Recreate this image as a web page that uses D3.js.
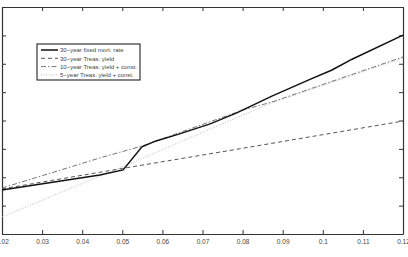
<!DOCTYPE html>
<html>
<head>
<meta charset="utf-8">
<script src="https://cdn.jsdelivr.net/npm/d3@7"></script>
<style>
  body { margin: 0; background: #fff; }
  svg { display: block; }
  text { font-family: "Liberation Sans", Arial, sans-serif; }
</style>
</head>
<body>
<div id="chart"></div>
<script>
// data
var mortX = [0.02, 0.0444, 0.0502, 0.0549, 0.0584, 0.0641, 0.0719, 0.0784, 0.0873, 0.0968, 0.1023, 0.1073, 0.12],
    mortY = [0.0555, 0.0608, 0.0626, 0.0707, 0.0728, 0.0752, 0.0788, 0.0826, 0.0886, 0.0945, 0.0978, 0.1016, 0.1101];
var t30X = [0.02, 0.05, 0.08, 0.12],
    t30Y = [0.0559, 0.0631, 0.0702, 0.0798];
var t10X = [0.02, 0.0444, 0.0549, 0.0801, 0.0873, 0.12],
    t10Y = [0.0562, 0.0668, 0.0710, 0.0837, 0.0865, 0.1024];
var t5X = [0.02, 0.0534, 0.0719, 0.0873, 0.12],
    t5Y = [0.0460, 0.0657, 0.0770, 0.0862, 0.1020];
var xTicks = [0.02, 0.03, 0.04, 0.05, 0.06, 0.07, 0.08, 0.09, 0.1, 0.11, 0.12],
    yTicks = [0.04, 0.05, 0.06, 0.07, 0.08, 0.09, 0.1, 0.11, 0.12];
var legendLabels = ["30\u2212year fixed mort. rate", "30\u2212year Treas. yield",
  "10\u2212year Treas. yield + const.", "5\u2212year Treas. yield + const."];

var W = 408, H = 257,
    m = {t:7, r:5, b:23, l:2},
    w = W - m.l - m.r,
    h = H - m.t - m.b;

var svg = d3.select("#chart").append("svg")
  .attr("width", W).attr("height", H);

var g = svg.append("g")
  .attr("transform", "translate(" + m.l + "," + m.t + ")");

var x = d3.scaleLinear().domain([0.02, 0.12]).range([0, w]);
var y = d3.scaleLinear().domain([0.04, 0.12]).range([h, 0]);

// axes, matlab style: ticks inside on all four sides
var fmt = function(d){ return String(+d.toFixed(2)); };
var axes = [
  {ax: d3.axisBottom(x).tickValues(xTicks).tickFormat(fmt).tickSizeInner(-4).tickSizeOuter(0).tickPadding(5), tr: "translate(0," + h + ")"},
  {ax: d3.axisTop(x).tickValues(xTicks).tickFormat("").tickSizeInner(-4).tickSizeOuter(0), tr: "translate(0,0)"},
  {ax: d3.axisLeft(y).tickValues(yTicks).tickFormat("").tickSizeInner(-4).tickSizeOuter(0), tr: "translate(0,0)"},
  {ax: d3.axisRight(y).tickValues(yTicks).tickFormat("").tickSizeInner(-4).tickSizeOuter(0), tr: "translate(" + w + ",0)"}
];
axes.forEach(function(a){
  var s = g.append("g").attr("transform", a.tr).call(a.ax);
  s.select(".domain").attr("stroke", "#333").attr("stroke-width", 1.2);
  s.selectAll(".tick line").attr("stroke", "#333");
  s.selectAll("text").attr("font-size", "6.5px").attr("fill", "#444");
});

var line = d3.line()
  .x(function(d){ return x(d[0]); })
  .y(function(d){ return y(d[1]); });

var series = [
  {xs: mortX, ys: mortY, stroke: "#111", width: 1.5, dash: null},
  {xs: t30X, ys: t30Y, stroke: "#555", width: 1, dash: "4,3"},
  {xs: t10X, ys: t10Y, stroke: "#666", width: 0.9, dash: "5,2,1.5,2"},
  {xs: t5X, ys: t5Y, stroke: "#b5b5b5", width: 0.9, dash: "1,1.5"}
];

series.slice().reverse().forEach(function(s){
  g.append("path")
    .datum(d3.zip(s.xs, s.ys))
    .attr("d", line)
    .attr("fill", "none")
    .attr("stroke", s.stroke)
    .attr("stroke-width", s.width)
    .attr("stroke-dasharray", s.dash);
});

// legend
var lg = svg.append("g").attr("transform", "translate(37,44)");
lg.append("rect")
  .attr("width", 103).attr("height", 36)
  .attr("fill", "#fff").attr("stroke", "#222").attr("stroke-width", 1.1);

series.forEach(function(s, i){
  var yy = 6 + i * 8.3;
  lg.append("line")
    .attr("x1", 4).attr("x2", 21).attr("y1", yy).attr("y2", yy)
    .attr("stroke", s.stroke).attr("stroke-width", s.width)
    .attr("stroke-dasharray", s.dash);
  lg.append("text")
    .attr("x", 23).attr("y", yy + 2.2)
    .attr("font-size", "6px").attr("fill", "#444")
    .text(legendLabels[i]);
});
</script>
</body>
</html>
